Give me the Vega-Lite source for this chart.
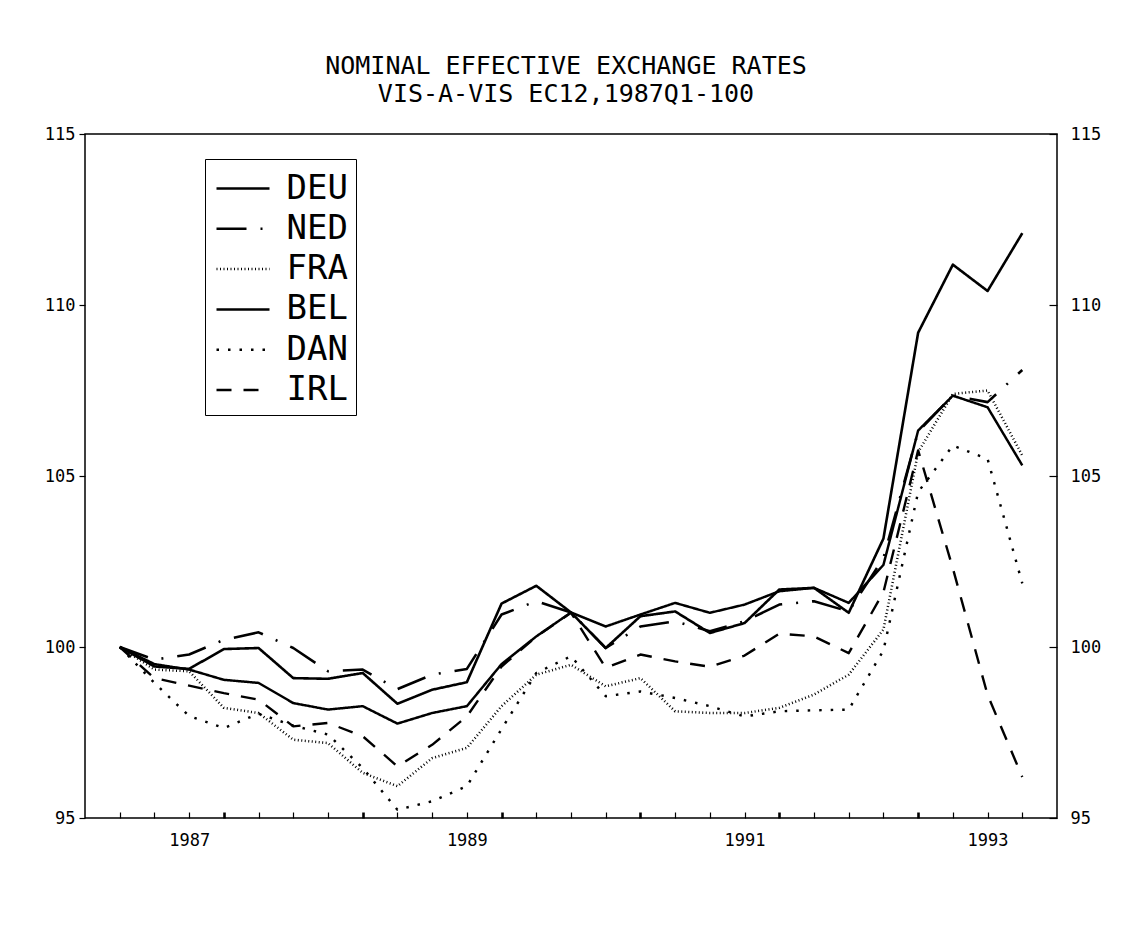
{
  "$schema": "https://vega.github.io/schema/vega-lite/v6.json",
  "autosize": {"type": "none"},
  "width": 972,
  "height": 684,
  "padding": {"left": 85, "top": 134, "right": 77, "bottom": 114},
  "background": "white",
  "config": {
    "view": {"stroke": "black", "strokeWidth": 1.5},
    "font": "DejaVu Sans Mono",
    "axis": {"domain": false, "grid": false, "labelFont": "DejaVu Sans Mono", "labelFontSize": 17, "labelColor": "black", "tickColor": "black", "title": null}
  },
  "title": {
    "text": ["NOMINAL EFFECTIVE EXCHANGE RATES", "VIS-A-VIS EC12,1987Q1-100"],
    "font": "DejaVu Sans Mono",
    "fontSize": 25,
    "fontWeight": "normal",
    "lineHeight": 28,
    "anchor": "middle",
    "frame": "group",
    "offset": 18,
    "dx": -5,
    "color": "black"
  },
  "data": {
    "values": [
      {"s": "DEU", "k": 0, "v": 100}, {"s": "DEU", "k": 1, "v": 99.43}, {"s": "DEU", "k": 2, "v": 99.36}, {"s": "DEU", "k": 3, "v": 99.94}, {"s": "DEU", "k": 4, "v": 99.97}, {"s": "DEU", "k": 5, "v": 99.09}, {"s": "DEU", "k": 6, "v": 99.07}, {"s": "DEU", "k": 7, "v": 99.24}, {"s": "DEU", "k": 8, "v": 98.34}, {"s": "DEU", "k": 9, "v": 98.75}, {"s": "DEU", "k": 10, "v": 98.97}, {"s": "DEU", "k": 11, "v": 101.27}, {"s": "DEU", "k": 12, "v": 101.79}, {"s": "DEU", "k": 13, "v": 101.01}, {"s": "DEU", "k": 14, "v": 99.97}, {"s": "DEU", "k": 15, "v": 100.9}, {"s": "DEU", "k": 16, "v": 101.04}, {"s": "DEU", "k": 17, "v": 100.41}, {"s": "DEU", "k": 18, "v": 100.7}, {"s": "DEU", "k": 19, "v": 101.68}, {"s": "DEU", "k": 20, "v": 101.73}, {"s": "DEU", "k": 21, "v": 101.0}, {"s": "DEU", "k": 22, "v": 103.17}, {"s": "DEU", "k": 23, "v": 109.19}, {"s": "DEU", "k": 24, "v": 111.18}, {"s": "DEU", "k": 25, "v": 110.41}, {"s": "DEU", "k": 26, "v": 112.1},
      {"s": "NED", "k": 0, "v": 100}, {"s": "NED", "k": 1, "v": 99.63}, {"s": "NED", "k": 2, "v": 99.78}, {"s": "NED", "k": 3, "v": 100.21}, {"s": "NED", "k": 4, "v": 100.43}, {"s": "NED", "k": 5, "v": 99.97}, {"s": "NED", "k": 6, "v": 99.29}, {"s": "NED", "k": 7, "v": 99.34}, {"s": "NED", "k": 8, "v": 98.77}, {"s": "NED", "k": 9, "v": 99.19}, {"s": "NED", "k": 10, "v": 99.36}, {"s": "NED", "k": 11, "v": 100.95}, {"s": "NED", "k": 12, "v": 101.34}, {"s": "NED", "k": 13, "v": 101.01}, {"s": "NED", "k": 14, "v": 99.97}, {"s": "NED", "k": 15, "v": 100.6}, {"s": "NED", "k": 16, "v": 100.75}, {"s": "NED", "k": 17, "v": 100.46}, {"s": "NED", "k": 18, "v": 100.75}, {"s": "NED", "k": 19, "v": 101.24}, {"s": "NED", "k": 20, "v": 101.34}, {"s": "NED", "k": 21, "v": 101.04}, {"s": "NED", "k": 22, "v": 102.6}, {"s": "NED", "k": 23, "v": 106.3}, {"s": "NED", "k": 24, "v": 107.35}, {"s": "NED", "k": 25, "v": 107.16}, {"s": "NED", "k": 26, "v": 108.1},
      {"s": "FRA", "k": 0, "v": 100}, {"s": "FRA", "k": 1, "v": 99.34}, {"s": "FRA", "k": 2, "v": 99.29}, {"s": "FRA", "k": 3, "v": 98.22}, {"s": "FRA", "k": 4, "v": 98.07}, {"s": "FRA", "k": 5, "v": 97.29}, {"s": "FRA", "k": 6, "v": 97.19}, {"s": "FRA", "k": 7, "v": 96.32}, {"s": "FRA", "k": 8, "v": 95.93}, {"s": "FRA", "k": 9, "v": 96.75}, {"s": "FRA", "k": 10, "v": 97.05}, {"s": "FRA", "k": 11, "v": 98.27}, {"s": "FRA", "k": 12, "v": 99.19}, {"s": "FRA", "k": 13, "v": 99.48}, {"s": "FRA", "k": 14, "v": 98.85}, {"s": "FRA", "k": 15, "v": 99.09}, {"s": "FRA", "k": 16, "v": 98.12}, {"s": "FRA", "k": 17, "v": 98.07}, {"s": "FRA", "k": 18, "v": 98.07}, {"s": "FRA", "k": 19, "v": 98.22}, {"s": "FRA", "k": 20, "v": 98.61}, {"s": "FRA", "k": 21, "v": 99.19}, {"s": "FRA", "k": 22, "v": 100.51}, {"s": "FRA", "k": 23, "v": 105.7}, {"s": "FRA", "k": 24, "v": 107.4}, {"s": "FRA", "k": 25, "v": 107.5}, {"s": "FRA", "k": 26, "v": 105.6},
      {"s": "BEL", "k": 0, "v": 100}, {"s": "BEL", "k": 1, "v": 99.5}, {"s": "BEL", "k": 2, "v": 99.34}, {"s": "BEL", "k": 3, "v": 99.04}, {"s": "BEL", "k": 4, "v": 98.95}, {"s": "BEL", "k": 5, "v": 98.36}, {"s": "BEL", "k": 6, "v": 98.17}, {"s": "BEL", "k": 7, "v": 98.27}, {"s": "BEL", "k": 8, "v": 97.76}, {"s": "BEL", "k": 9, "v": 98.07}, {"s": "BEL", "k": 10, "v": 98.27}, {"s": "BEL", "k": 11, "v": 99.5}, {"s": "BEL", "k": 12, "v": 100.31}, {"s": "BEL", "k": 13, "v": 101.01}, {"s": "BEL", "k": 14, "v": 100.6}, {"s": "BEL", "k": 15, "v": 100.95}, {"s": "BEL", "k": 16, "v": 101.29}, {"s": "BEL", "k": 17, "v": 101.0}, {"s": "BEL", "k": 18, "v": 101.24}, {"s": "BEL", "k": 19, "v": 101.63}, {"s": "BEL", "k": 20, "v": 101.73}, {"s": "BEL", "k": 21, "v": 101.29}, {"s": "BEL", "k": 22, "v": 102.4}, {"s": "BEL", "k": 23, "v": 106.33}, {"s": "BEL", "k": 24, "v": 107.35}, {"s": "BEL", "k": 25, "v": 107.01}, {"s": "BEL", "k": 26, "v": 105.31},
      {"s": "DAN", "k": 0, "v": 100}, {"s": "DAN", "k": 1, "v": 98.95}, {"s": "DAN", "k": 2, "v": 97.98}, {"s": "DAN", "k": 3, "v": 97.63}, {"s": "DAN", "k": 4, "v": 98.05}, {"s": "DAN", "k": 5, "v": 97.7}, {"s": "DAN", "k": 6, "v": 97.44}, {"s": "DAN", "k": 7, "v": 96.46}, {"s": "DAN", "k": 8, "v": 95.24}, {"s": "DAN", "k": 9, "v": 95.49}, {"s": "DAN", "k": 10, "v": 95.93}, {"s": "DAN", "k": 11, "v": 97.6}, {"s": "DAN", "k": 12, "v": 99.24}, {"s": "DAN", "k": 13, "v": 99.73}, {"s": "DAN", "k": 14, "v": 98.56}, {"s": "DAN", "k": 15, "v": 98.7}, {"s": "DAN", "k": 16, "v": 98.51}, {"s": "DAN", "k": 17, "v": 98.27}, {"s": "DAN", "k": 18, "v": 97.97}, {"s": "DAN", "k": 19, "v": 98.12}, {"s": "DAN", "k": 20, "v": 98.15}, {"s": "DAN", "k": 21, "v": 98.17}, {"s": "DAN", "k": 22, "v": 99.9}, {"s": "DAN", "k": 23, "v": 104.53}, {"s": "DAN", "k": 24, "v": 105.89}, {"s": "DAN", "k": 25, "v": 105.5}, {"s": "DAN", "k": 26, "v": 101.86},
      {"s": "IRL", "k": 0, "v": 100}, {"s": "IRL", "k": 1, "v": 99.09}, {"s": "IRL", "k": 2, "v": 98.87}, {"s": "IRL", "k": 3, "v": 98.65}, {"s": "IRL", "k": 4, "v": 98.46}, {"s": "IRL", "k": 5, "v": 97.68}, {"s": "IRL", "k": 6, "v": 97.78}, {"s": "IRL", "k": 7, "v": 97.39}, {"s": "IRL", "k": 8, "v": 96.51}, {"s": "IRL", "k": 9, "v": 97.14}, {"s": "IRL", "k": 10, "v": 97.97}, {"s": "IRL", "k": 11, "v": 99.43}, {"s": "IRL", "k": 12, "v": 100.3}, {"s": "IRL", "k": 13, "v": 101.0}, {"s": "IRL", "k": 14, "v": 99.39}, {"s": "IRL", "k": 15, "v": 99.78}, {"s": "IRL", "k": 16, "v": 99.58}, {"s": "IRL", "k": 17, "v": 99.42}, {"s": "IRL", "k": 18, "v": 99.75}, {"s": "IRL", "k": 19, "v": 100.39}, {"s": "IRL", "k": 20, "v": 100.31}, {"s": "IRL", "k": 21, "v": 99.82}, {"s": "IRL", "k": 22, "v": 101.6}, {"s": "IRL", "k": 23, "v": 105.75}, {"s": "IRL", "k": 24, "v": 102.3}, {"s": "IRL", "k": 25, "v": 98.6}, {"s": "IRL", "k": 26, "v": 96.2}
    ]
  },
  "layer": [
    {
      "mark": {"type": "line", "color": "black", "strokeJoin": "round"},
      "encoding": {
        "x": {
          "field": "k",
          "type": "quantitative",
          "scale": {"domain": [-1, 27], "nice": false, "zero": false},
          "axis": {
            "values": [0, 1, 2, 3, 4, 5, 6, 7, 8, 9, 10, 11, 12, 13, 14, 15, 16, 17, 18, 19, 20, 21, 22, 23, 24, 25, 26],
            "labelExpr": "datum.value == 2 ? '1987' : datum.value == 10 ? '1989' : datum.value == 18 ? '1991' : datum.value == 25 ? '1993' : ''",
            "labelOverlap": false,
            "labelFlush": false,
            "labelPadding": 20,
            "tickSize": -6,
            "tickWidth": {"condition": {"test": "datum.value % 4 == 3", "value": 2.6}, "value": 1.2}
          }
        },
        "y": {
          "field": "v",
          "type": "quantitative",
          "scale": {"domain": [95, 115], "nice": false, "zero": false},
          "axis": {"orient": "left", "values": [95, 100, 105, 110, 115], "tickSize": 6, "tickWidth": 1.2, "labelPadding": 4}
        },
        "strokeDash": {
          "field": "s",
          "type": "nominal",
          "scale": {"domain": ["DEU", "NED", "FRA", "BEL", "DAN", "IRL"], "range": [[1, 0], [30, 14, 2, 14], [1, 2.5], [1, 0], [2.5, 9], [15, 12]]},
          "legend": {
            "orient": "none", "legendX": 120, "legendY": 25, "title": null,
            "strokeColor": "black", "padding": 8,
            "symbolType": "M-1.325,0H1.325", "symbolSize": 1600, "symbolOffset": 8.5,
            "symbolStrokeColor": "black", "symbolFillColor": "transparent",
            "labelFont": "DejaVu Sans Mono", "labelFontSize": 34, "labelColor": "black",
            "labelOffset": 22, "rowPadding": 1.3, "labelExpr": "datum.label + '\u00a0'"
          }
        },
        "strokeWidth": {
          "field": "s",
          "type": "nominal",
          "scale": {"domain": ["DEU", "NED", "FRA", "BEL", "DAN", "IRL"], "range": [2.6, 2.4, 1.1, 1.2, 2.8, 2.4]},
          "legend": {
            "orient": "none", "legendX": 120, "legendY": 25, "title": null,
            "strokeColor": "black", "padding": 8,
            "symbolType": "M-1.325,0H1.325", "symbolSize": 1600, "symbolOffset": 8.5,
            "symbolStrokeColor": "black", "symbolFillColor": "transparent",
            "labelFont": "DejaVu Sans Mono", "labelFontSize": 34, "labelColor": "black",
            "labelOffset": 22, "rowPadding": 1.3, "labelExpr": "datum.label + '\u00a0'"
          }
        }
      }
    },
    {
      "mark": {"type": "point", "opacity": 0},
      "encoding": {
        "y": {
          "field": "v",
          "type": "quantitative",
          "axis": {"orient": "right", "values": [95, 100, 105, 110, 115], "tickSize": -8, "tickWidth": 1.2, "labelPadding": 21}
        }
      }
    }
  ]
}
